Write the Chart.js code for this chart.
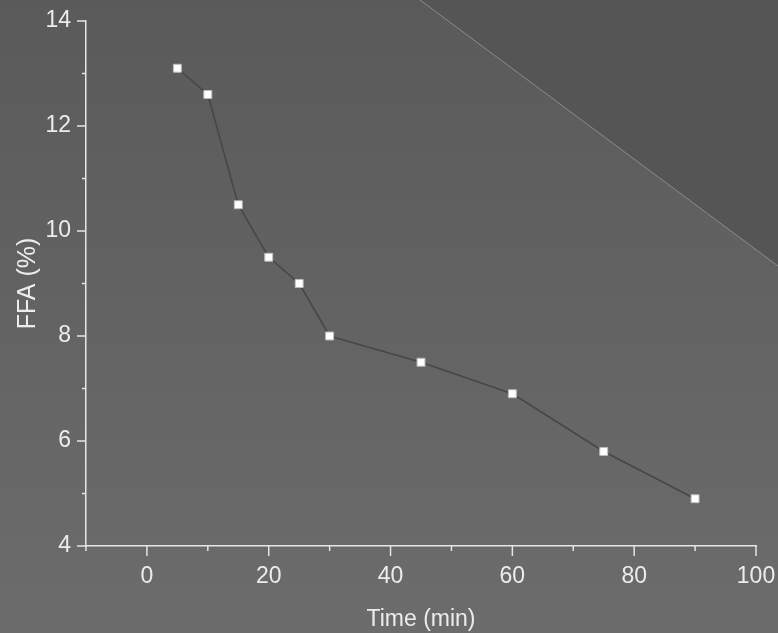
<!DOCTYPE html>
<html>
<head>
<meta charset="utf-8">
<script src="https://cdn.jsdelivr.net/npm/chart.js@4.4.1/dist/chart.umd.min.js"></script>
<style>
  html, body { margin: 0; padding: 0; background: #5e5e5e; }
  #wrap { width: 778px; height: 633px; }
</style>
</head>
<body>
<div id="wrap"><canvas id="chartFFA" width="778" height="633"></canvas></div>
<script>
// Datos
const tiempos = [5, 10, 15, 20, 25, 30, 45, 60, 75, 90];
const ffa = [13.1, 12.6, 10.5, 9.5, 9.0, 8.0, 7.5, 6.9, 5.8, 4.9];
const xTicks = [0, 20, 40, 60, 80, 100];
const yTicks = [4, 6, 8, 10, 12, 14];

const TEXTO = '#ececec';
const EJE = '#e6e6e6';

// Fondo gris con triángulo oscuro arriba a la derecha
const fondoPlugin = {
    id: 'fondo',
    beforeDraw(chart) {
        const { ctx, width, height } = chart;
        ctx.save();
        const g = ctx.createLinearGradient(0, 0, 0, height);
        g.addColorStop(0, '#5a5a5a');
        g.addColorStop(1, '#6c6c6c');
        ctx.fillStyle = g;
        ctx.fillRect(0, 0, width, height);

        ctx.beginPath();
        ctx.moveTo(420, 0);
        ctx.lineTo(width, 0);
        ctx.lineTo(width, 266);
        ctx.closePath();
        ctx.fillStyle = '#555555';
        ctx.fill();

        ctx.beginPath();
        ctx.moveTo(420, 0);
        ctx.lineTo(width, 266);
        ctx.strokeStyle = '#8c8c8c';
        ctx.lineWidth = 1;
        ctx.stroke();
        ctx.restore();
    }
};

// Marcas mayores y menores hacia afuera
const marcasPlugin = {
    id: 'marcas',
    afterDraw(chart) {
        const { ctx } = chart;
        const sx = chart.scales.x;
        const sy = chart.scales.y;
        ctx.save();
        ctx.strokeStyle = EJE;
        ctx.lineWidth = 1.5;
        sx.ticks.forEach(t => {
            const px = sx.getPixelForValue(t.value);
            const largo = xTicks.includes(t.value) ? 10 : 5;
            ctx.beginPath();
            ctx.moveTo(px, sx.top);
            ctx.lineTo(px, sx.top + largo);
            ctx.stroke();
        });
        sy.ticks.forEach(t => {
            const py = sy.getPixelForValue(t.value);
            const largo = yTicks.includes(t.value) ? 9 : 4;
            ctx.beginPath();
            ctx.moveTo(sy.right, py);
            ctx.lineTo(sy.right - largo, py);
            ctx.stroke();
        });
        ctx.restore();
    }
};

const ctxFFA = document.getElementById('chartFFA').getContext('2d');
const chartFFA = new Chart(ctxFFA, {
    type: 'line',
    data: {
        datasets: [{
            label: 'FFA',
            data: tiempos.map((t, i) => ({ x: t, y: ffa[i] })),
            borderColor: '#474747',
            borderWidth: 1.6,
            pointStyle: 'rect',
            pointRadius: 5.6,
            pointBackgroundColor: '#ffffff',
            pointBorderColor: '#bdbdbd',
            pointBorderWidth: 1,
            tension: 0
        }]
    },
    plugins: [fondoPlugin, marcasPlugin],
    options: {
        responsive: false,
        animation: false,
        layout: { padding: { top: 21, right: 22, left: 0, bottom: 0 } },
        plugins: {
            legend: { display: false },
            tooltip: { enabled: false }
        },
        scales: {
            x: {
                type: 'linear',
                min: -10,
                max: 100,
                afterFit: s => {
                    s.height = 87;
                    s.paddingLeft = 0;
                    s.paddingRight = 0;
                },
                grid: { display: false, drawTicks: false },
                border: { display: true, color: EJE, width: 1.5 },
                ticks: {
                    stepSize: 10,
                    autoSkip: false,
                    maxRotation: 0,
                    padding: 17,
                    color: TEXTO,
                    font: { family: 'Liberation Sans', size: 23 },
                    callback: v => xTicks.includes(v) ? String(v) : ''
                },
                title: {
                    display: true,
                    text: 'Time (min)',
                    color: TEXTO,
                    padding: { top: 0, bottom: 0 },
                    font: { family: 'Liberation Sans', size: 23 }
                }
            },
            y: {
                min: 4,
                max: 14,
                afterFit: s => {
                    s.width = 86;
                    s.paddingTop = 0;
                    s.paddingBottom = 0;
                },
                grid: { display: false, drawTicks: false },
                border: { display: true, color: EJE, width: 1.5 },
                ticks: {
                    stepSize: 1,
                    autoSkip: false,
                    padding: 15,
                    color: TEXTO,
                    font: { family: 'Liberation Sans', size: 23 },
                    callback: v => yTicks.includes(v) ? String(v) : ''
                },
                title: {
                    display: true,
                    text: 'FFA (%)',
                    color: TEXTO,
                    padding: { top: 13, bottom: 0 },
                    font: { family: 'Liberation Sans', size: 25 }
                }
            }
        }
    }
});
</script>
</body>
</html>
